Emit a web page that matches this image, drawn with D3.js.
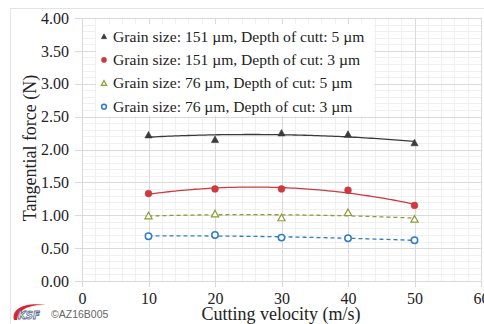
<!DOCTYPE html>
<html><head><meta charset="utf-8">
<script src="https://cdn.jsdelivr.net/npm/d3@7"></script>
<style>body{margin:0;background:#fff}svg{display:block}</style>
</head><body>
<svg id="c" width="484" height="324"></svg>
<script>
const velocities = [10, 20, 30, 40, 50];
const g151d5 = [2.22, 2.15, 2.25, 2.23, 2.10];
const g151d3 = [1.33, 1.40, 1.40, 1.38, 1.15];
const g76d5 = [0.99, 1.02, 0.96, 1.04, 0.94];
const g76d3 = [0.68, 0.70, 0.66, 0.65, 0.62];
const seriesNames = [
  "Grain size: 151 \u00b5m, Depth of cutt: 5 \u00b5m",
  "Grain size: 151 \u00b5m, Depth of cut: 3 \u00b5m",
  "Grain size: 76 \u00b5m, Depth of cut: 5 \u00b5m",
  "Grain size: 76 \u00b5m, Depth of cut: 3 \u00b5m"
];
const yTicks = [0, 0.5, 1, 1.5, 2, 2.5, 3, 3.5, 4];
const xTicks = [0, 10, 20, 30, 40, 50, 60];

const styles = [
  {color:"#3a3a3a", marker:"tri", fill:true, dash:null},
  {color:"#cc3a3f", marker:"circ", fill:true, dash:null},
  {color:"#8f9a3a", marker:"tri", fill:false, dash:"4,3"},
  {color:"#2f7cc4", marker:"circ", fill:false, dash:"4,3"}
];
const data = [g151d5, g151d3, g76d5, g76d3];

const svg = d3.select("#c");
const L = 82, R = 481, T = 18, B = 281;
const x = d3.scaleLinear().domain([0, 60]).range([L, R]);
const y = d3.scaleLinear().domain([0, 4]).range([B, T]);

// outer frame
svg.append("rect").attr("x",10.5).attr("y",8.5).attr("width",480).attr("height",330)
  .attr("fill","#fff").attr("stroke","#e4e4e4");

// minor grid
const gm = svg.append("g").attr("stroke","#f0f0f0").attr("stroke-width",1);
d3.range(0, 4.001, 0.1).forEach(v => gm.append("line").attr("x1",L).attr("x2",R)
  .attr("y1",Math.round(y(v))+0.5).attr("y2",Math.round(y(v))+0.5));
d3.range(0, 60.001, 2).forEach(v => gm.append("line").attr("y1",T).attr("y2",B)
  .attr("x1",Math.round(x(v))+0.5).attr("x2",Math.round(x(v))+0.5));
// major grid
const gM = svg.append("g").attr("stroke","#dadada").attr("stroke-width",1);
yTicks.forEach(v => gM.append("line").attr("x1",L-7).attr("x2",R)
  .attr("y1",Math.round(y(v))+0.5).attr("y2",Math.round(y(v))+0.5));
xTicks.forEach(v => gM.append("line").attr("y1",T).attr("y2",B+6)
  .attr("x1",Math.round(x(v))+0.5).attr("x2",Math.round(x(v))+0.5));

// axes labels
const yAxis = d3.axisLeft(y).tickValues(yTicks).tickFormat(d3.format(".2f")).tickSize(0).tickPadding(13);
svg.append("g").attr("transform",`translate(${L},0)`).call(yAxis)
  .call(g => g.select(".domain").remove())
  .selectAll("text").attr("font-family","Liberation Serif").attr("font-size",16).attr("fill","#222");
const xAxis = d3.axisBottom(x).tickValues(xTicks).tickSize(0).tickPadding(12);
svg.append("g").attr("transform",`translate(0,${B})`).call(xAxis)
  .call(g => g.select(".domain").remove())
  .selectAll("text").attr("font-family","Liberation Serif").attr("font-size",16).attr("fill","#222");

svg.append("text").attr("x",281).attr("y",320).attr("text-anchor","middle")
  .attr("font-family","Liberation Serif").attr("font-size",18).attr("fill","#222")
  .text("Cutting velocity (m/s)");
svg.append("text").attr("transform","translate(36,148) rotate(-90)").attr("text-anchor","middle")
  .attr("font-family","Liberation Serif").attr("font-size",18).attr("fill","#222")
  .text("Tangential force (N)");

// quadratic fit
function quadFit(xs, ys){
  let S = [0,0,0,0,0], T2=[0,0,0];
  xs.forEach((xv,i)=>{ for(let k=0;k<5;k++) S[k]+=Math.pow(xv,k); for(let k=0;k<3;k++) T2[k]+=ys[i]*Math.pow(xv,k); });
  const A = [[S[0],S[1],S[2],T2[0]],[S[1],S[2],S[3],T2[1]],[S[2],S[3],S[4],T2[2]]];
  for(let i=0;i<3;i++){ for(let j=i+1;j<3;j++){ const f=A[j][i]/A[i][i]; for(let k=i;k<4;k++) A[j][k]-=f*A[i][k]; } }
  const c=[0,0,0]; for(let i=2;i>=0;i--){ let s=A[i][3]; for(let k=i+1;k<3;k++) s-=A[i][k]*c[k]; c[i]=s/A[i][i]; }
  return v => c[0]+c[1]*v+c[2]*v*v;
}

function drawMarker(g, cx, cy, st, sc){
  sc = sc || 1;
  if(st.marker==="tri"){
    const s = 3.6*sc;
    g.append("path").attr("d",`M${cx},${cy-s}L${cx+s},${cy+s*0.8}L${cx-s},${cy+s*0.8}Z`)
      .attr("fill", st.fill ? st.color : "#fff").attr("stroke", st.color).attr("stroke-width", st.fill?0.6:1.2);
  } else {
    g.append("circle").attr("cx",cx).attr("cy",cy).attr("r", (st.fill?3.4:3.2)*sc)
      .attr("fill", st.fill ? st.color : "#fff").attr("stroke", st.color).attr("stroke-width", st.fill?0.6:1.5);
  }
}

const line = d3.line().x(d=>x(d[0])).y(d=>y(d[1]));
data.forEach((vals, si) => {
  const st = styles[si];
  const f = quadFit(velocities, vals);
  const pts = d3.range(10, 50.01, 0.5).map(v => [v, f(v)]);
  svg.append("path").attr("d", line(pts)).attr("fill","none").attr("stroke",st.color)
    .attr("stroke-width",1.3).attr("stroke-dasharray",st.dash);
  velocities.forEach((v,i) => drawMarker(svg, x(v), y(vals[i]), st));
});

// legend
const lg = svg.append("g");
lg.append("rect").attr("x",96).attr("y",24).attr("width",278).attr("height",92).attr("fill","#fff");
seriesNames.forEach((name, i) => {
  const yy = 36.5 + i*23.4;
  drawMarker(lg, 104, yy, styles[i], 0.75);
  lg.append("text").attr("x",113).attr("y",yy+5).attr("font-family","Liberation Serif")
    .attr("font-size",15.6).attr("fill","#222").text(name);
});

// watermark
const wm = svg.append("g");
wm.append("path").attr("d","M14,320 C11,308 26,302 46,305 C30,304 18,309 17,320 Z").attr("fill","#d8262e");
wm.append("text").attr("x",18).attr("y",319).attr("font-family","DejaVu Sans").attr("font-weight","bold")
  .attr("font-size",10).attr("fill","#fff").attr("stroke","#5a6a8a").attr("stroke-width",0.8)
  .attr("font-style","italic").text("KSF");
wm.append("text").attr("x",51).attr("y",318).attr("font-family","Liberation Sans")
  .attr("font-size",10.5).attr("fill","#666").text("\u00a9AZ16B005");
</script>
</body></html>
